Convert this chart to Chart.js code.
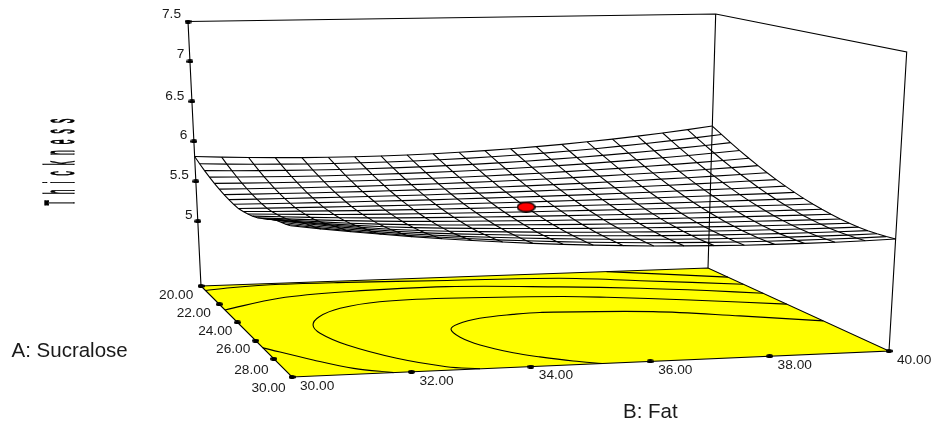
<!DOCTYPE html>
<html>
<head>
<meta charset="utf-8">
<style>html,body{margin:0;padding:0;background:#fff}canvas{display:block}</style>
<script src="https://cdn.jsdelivr.net/npm/chart.js@4"></script>
</head>
<body>
<canvas id="c" width="936" height="428"></canvas>
<script>
// ---------- axis levels ----------
const sucraloseTicks = [20, 22, 24, 26, 28, 30];
const fatTicks = [30, 32, 34, 36, 38, 40];
const thicknessTicks = [5, 5.5, 6, 6.5, 7, 7.5];
const thicknessTickLabels = ['5', '5.5', '6', '6.5', '7', '7.5'];
const sucraloseTickLabels = ['20.00', '22.00', '24.00', '26.00', '28.00', '30.00'];
const fatTickLabels = ['30.00', '32.00', '34.00', '36.00', '38.00', '40.00'];
const sucraloseGrid = [20,20.5,21,21.5,22,22.5,23,23.5,24,24.5,25,25.5,26,26.5,27,27.5,28,28.5,29,29.5,30];
const fatGrid = [30,30.5,31,31.5,32,32.5,33,33.5,34,34.5,35,35.5,36,36.5,37,37.5,38,38.5,39,39.5,40];
const centerPoint = [25, 35, 5.52];

// ---------- thickness: one row per sucralose level, across fatGrid ----------
const thicknessA20_0 = [5.810,5.794,5.781,5.771,5.763,5.759,5.757,5.759,5.763,5.770,5.780,5.793,5.809,5.828,5.849,5.874,5.901,5.932,5.965,6.001,6.040];
const thicknessA20_5 = [5.763,5.750,5.740,5.732,5.726,5.723,5.723,5.724,5.728,5.735,5.744,5.756,5.770,5.786,5.805,5.826,5.850,5.876,5.905,5.936,5.969];
const thicknessA21_0 = [5.721,5.711,5.703,5.697,5.693,5.691,5.691,5.693,5.697,5.703,5.711,5.721,5.733,5.747,5.763,5.781,5.801,5.823,5.848,5.874,5.902];
const thicknessA21_5 = [5.684,5.676,5.670,5.665,5.662,5.661,5.661,5.663,5.667,5.672,5.679,5.688,5.698,5.710,5.723,5.739,5.755,5.774,5.794,5.816,5.839];
const thicknessA22_0 = [5.651,5.645,5.640,5.637,5.634,5.634,5.634,5.636,5.639,5.643,5.649,5.656,5.665,5.675,5.686,5.698,5.712,5.727,5.743,5.761,5.780];
const thicknessA22_5 = [5.624,5.619,5.615,5.613,5.611,5.610,5.611,5.612,5.614,5.618,5.623,5.628,5.635,5.642,5.651,5.661,5.672,5.684,5.697,5.711,5.726];
const thicknessA23_0 = [5.601,5.597,5.594,5.591,5.590,5.589,5.589,5.590,5.592,5.594,5.597,5.601,5.606,5.612,5.619,5.626,5.635,5.644,5.654,5.664,5.676];
const thicknessA23_5 = [5.584,5.580,5.577,5.575,5.573,5.572,5.571,5.571,5.572,5.573,5.575,5.578,5.581,5.585,5.590,5.595,5.601,5.608,5.615,5.623,5.631];
const thicknessA24_0 = [5.571,5.567,5.564,5.561,5.558,5.557,5.555,5.554,5.554,5.554,5.555,5.556,5.558,5.560,5.563,5.566,5.570,5.574,5.579,5.584,5.590];
const thicknessA24_5 = [5.563,5.558,5.554,5.550,5.547,5.544,5.542,5.540,5.538,5.537,5.536,5.536,5.536,5.537,5.538,5.539,5.541,5.543,5.546,5.549,5.553];
const thicknessA25_0 = [5.570,5.561,5.554,5.547,5.540,5.535,5.531,5.528,5.525,5.522,5.520,5.518,5.517,5.516,5.515,5.515,5.515,5.516,5.517,5.518,5.520];
const thicknessA25_5 = [5.582,5.569,5.558,5.547,5.537,5.530,5.524,5.519,5.514,5.510,5.506,5.503,5.500,5.498,5.496,5.494,5.493,5.492,5.492,5.491,5.492];
const thicknessA26_0 = [5.599,5.581,5.564,5.550,5.538,5.527,5.519,5.512,5.506,5.500,5.495,5.490,5.486,5.482,5.478,5.475,5.473,5.471,5.470,5.469,5.468];
const thicknessA26_5 = [5.621,5.598,5.576,5.557,5.541,5.527,5.517,5.508,5.500,5.492,5.485,5.479,5.473,5.468,5.463,5.459,5.456,5.453,5.451,5.449,5.448];
const thicknessA27_0 = [5.652,5.622,5.593,5.568,5.547,5.530,5.516,5.505,5.495,5.486,5.477,5.469,5.462,5.456,5.450,5.445,5.441,5.438,5.435,5.433,5.432];
const thicknessA27_5 = [5.684,5.647,5.613,5.583,5.557,5.536,5.520,5.506,5.494,5.483,5.472,5.463,5.455,5.447,5.441,5.435,5.430,5.426,5.424,5.422,5.421];
const thicknessA28_0 = [5.720,5.676,5.636,5.601,5.569,5.544,5.525,5.509,5.495,5.481,5.469,5.458,5.449,5.440,5.433,5.427,5.422,5.418,5.415,5.414,5.414];
const thicknessA28_5 = [5.747,5.699,5.657,5.619,5.584,5.556,5.534,5.516,5.499,5.483,5.469,5.457,5.446,5.436,5.428,5.422,5.417,5.413,5.411,5.411,5.412];
const thicknessA29_0 = [5.763,5.716,5.674,5.635,5.600,5.571,5.545,5.524,5.504,5.487,5.471,5.457,5.445,5.434,5.426,5.419,5.414,5.412,5.411,5.411,5.414];
const thicknessA29_5 = [5.779,5.734,5.692,5.653,5.618,5.587,5.559,5.534,5.512,5.492,5.474,5.459,5.445,5.435,5.426,5.419,5.415,5.413,5.413,5.415,5.420];
const thicknessA30_0 = [5.800,5.756,5.714,5.676,5.640,5.606,5.576,5.548,5.522,5.500,5.480,5.463,5.448,5.437,5.428,5.421,5.418,5.417,5.418,5.423,5.430];
const thicknessRows = [thicknessA20_0,thicknessA20_5,thicknessA21_0,thicknessA21_5,thicknessA22_0,thicknessA22_5,thicknessA23_0,thicknessA23_5,thicknessA24_0,thicknessA24_5,thicknessA25_0,thicknessA25_5,thicknessA26_0,thicknessA26_5,thicknessA27_0,thicknessA27_5,thicknessA28_0,thicknessA28_5,thicknessA29_0,thicknessA29_5,thicknessA30_0];

// ---------- contour lines on the floor: (sucralose, fat) pairs ----------
const contour1A = [26.37,25.45,24.60,24.20,24.30,24.58,25.10,25.65,26.53,27.45,28.43,29.00,29.60,30.00];
const contour1B = [40.00,38.80,37.48,35.52,35.00,34.32,33.81,33.56,33.53,33.68,34.04,34.37,34.80,35.20];
const contour2A = [24.35,23.48,22.83,22.55,22.28,22.38,22.92,23.73,24.60,25.50,26.87,28.50,29.62,30.00];
const contour2B = [40.00,38.50,37.13,36.34,34.26,32.97,32.11,31.56,31.28,31.24,31.47,32.03,32.66,33.15];
const contour3A = [23.05,22.50,21.97,21.50,21.02,21.17,21.60,22.63];
const contour3B = [40.00,39.12,38.03,36.63,34.58,32.60,31.22,30.00];
const contour3LowerA = [26.80,28.30,29.37,30.00];
const contour3LowerB = [30.00,30.63,31.14,31.70];
const contour4A = [21.95,21.14,20.55,20.35,20.17,20.12,20.30,20.50];
const contour4B = [40.00,38.29,36.90,34.76,32.83,31.54,30.52,30.00];
const contour5A = [21.10,20.60,20.00];
const contour5B = [40.00,39.13,38.00];

// ---------- text ----------
const sucraloseTitle = 'A: Sucralose';
const fatTitle = 'B: Fat';
const thicknessTitle = 'Thickness';

// ---------- view of the box: pixel anchors of its corners, not chart data ----------
const FLOOR = 4.19, CEIL = 7.5;
const floorCorners = [[201,286],[292,377],[889,351],[708,268]];
const topCorners = [[188,21.5],[289,66],[906.7,52],[715.7,14]];
function project(A, B, z) {
  const a = (A - 20) / 10;
  const t = (z - FLOOR) / (CEIL - FLOOR);
  let b = (B - 30) / 10;
  b += 0.094 * t * (1 - a) * b * (1 - b);
  const w = [(1-a)*(1-b), a*(1-b), a*b, (1-a)*b];
  const mix = (k) => {
    let lo = 0, hi = 0;
    for (let i = 0; i < 4; i++) { lo += w[i]*floorCorners[i][k]; hi += w[i]*topCorners[i][k]; }
    return lo + (hi - lo) * t;
  };
  return {x: mix(0), y: mix(1)};
}
const sprite = (w, h, fill, line) => {
  const c = document.createElement('canvas');
  c.width = w; c.height = h;
  const g = c.getContext('2d');
  g.beginPath();
  g.ellipse(w/2, h/2, w/2 - (line ? .8 : 0), h/2 - (line ? .8 : 0), 0, 0, 2*Math.PI);
  g.fillStyle = fill; g.fill();
  if (line) { g.lineWidth = 1.5; g.strokeStyle = line; g.stroke(); }
  return c;
};
const tickSprite = sprite(7, 4, '#000');
const dotSprite = sprite(19, 11, '#f00', '#000');

const line = (points, order, extra) => Object.assign({
  data: points, showLine: true, pointRadius: 0, borderColor: '#000', borderWidth: 1.1,
  fill: false, order, tension: 0
}, extra || {});
const datasets = [];

// floor
const floorPts = [[20,30],[30,30],[30,40],[20,40],[20,30]].map(p => project(p[0], p[1], FLOOR));
datasets.push(line(floorPts, 9, {fill: 'shape', backgroundColor: '#ffff00'}));
// contours
[[contour1A,contour1B],[contour2A,contour2B],[contour3A,contour3B],[contour3LowerA,contour3LowerB],[contour4A,contour4B],[contour5A,contour5B]]
  .forEach(c => datasets.push(line(c[0].map((A,i) => project(A, c[1][i], FLOOR)), 8, {tension: 0.35})));
// box
const boxRuns = [
  [[20,30,FLOOR],[20,30,CEIL],[20,40,CEIL],[30,40,CEIL],[30,40,FLOOR]],
  [[20,40,FLOOR],[20,40,CEIL]]
];
boxRuns.forEach(r => datasets.push(line(r.map(p => project(p[0],p[1],p[2])), 7)));
// mesh
thicknessRows.forEach((row, i) =>
  datasets.push(line(row.map((z, j) => project(sucraloseGrid[i], fatGrid[j], z)), 5)));
fatGrid.forEach((B, j) =>
  datasets.push(line(sucraloseGrid.map((A, i) => project(A, B, thicknessRows[i][j])), 5)));
// tick marks
const tickPts = [
  ...thicknessTicks.map(z => project(20,30,z)),
  ...sucraloseTicks.map(A => project(A,30,FLOOR)),
  ...fatTicks.slice(1).map(B => project(30,B,FLOOR))
];
datasets.push({data: tickPts, showLine: false, pointStyle: tickSprite, pointRadius: 3, order: 2});
// centre point
const c0 = project(centerPoint[0], centerPoint[1], centerPoint[2]);
datasets.push({data: [c0], showLine: false, pointStyle: dotSprite, pointRadius: 6, order: 1});

// text
const zLabelShift = [[-5.3,-6],[-7,-6],[-6.5,-6],[-7.6,-5.5],[-5.6,-7.5],[-7,-7]];
const aLabelShift = [[-7.7,9],[-8.3,9],[-5,9],[-5.3,8.3],[-5.3,11],[-6.3,11]];
const textPlugin = {
  id: 'labels',
  afterDatasetsDraw(chart) {
    const g = chart.ctx, sx = chart.scales.x, sy = chart.scales.y;
    const put = (txt, p, dx, dy, align) => {
      g.textAlign = align;
      g.fillText(txt, sx.getPixelForValue(p.x) + dx, sy.getPixelForValue(p.y) + dy);
    };
    g.save();
    g.fillStyle = '#1a1a1a';
    g.textBaseline = 'middle';
    g.font = '13.7px "Liberation Sans", Arial, sans-serif';
    thicknessTicks.forEach((z,i) => put(thicknessTickLabels[i], project(20,30,z), zLabelShift[i][0], zLabelShift[i][1], 'right'));
    sucraloseTicks.forEach((A,i) => put(sucraloseTickLabels[i], project(A,30,FLOOR), aLabelShift[i][0], aLabelShift[i][1], 'right'));
    fatTicks.forEach((B,i) => put(fatTickLabels[i], project(30,B,FLOOR), 8, 9, 'left'));
    g.textBaseline = 'alphabetic';
    g.textAlign = 'left';
    g.font = '20.5px "Liberation Sans", Arial, sans-serif';
    g.fillText(sucraloseTitle, 11.5, 356.7);
    g.fillText(fatTitle, 623, 418.3);
    // the condensed, widely spaced vertical title
    g.save();
    g.translate(73.5, 205.5);
    g.rotate(-Math.PI/2);
    g.scale(0.2, 1);
    g.font = '43px "Liberation Sans", Arial, sans-serif';
    g.letterSpacing = '30px';
    g.fillStyle = '#000';
    g.strokeStyle = '#000';
    g.lineWidth = 1.4;
    g.fillText(thicknessTitle, 0, 0);
    g.strokeText(thicknessTitle, 0, 0);
    g.restore();
    g.restore();
  }
};

new Chart(document.getElementById('c'), {
  type: 'scatter',
  data: {datasets},
  options: {
    responsive: false,
    animation: false,
    events: [],
    layout: {padding: 0, autoPadding: false},
    scales: {
      x: {type: 'linear', min: 0, max: 936, display: false},
      y: {type: 'linear', min: 0, max: 428, reverse: true, display: false}
    },
    plugins: {legend: {display: false}, tooltip: {enabled: false}, title: {display: false}}
  },
  plugins: [textPlugin]
});
</script>
</body>
</html>
